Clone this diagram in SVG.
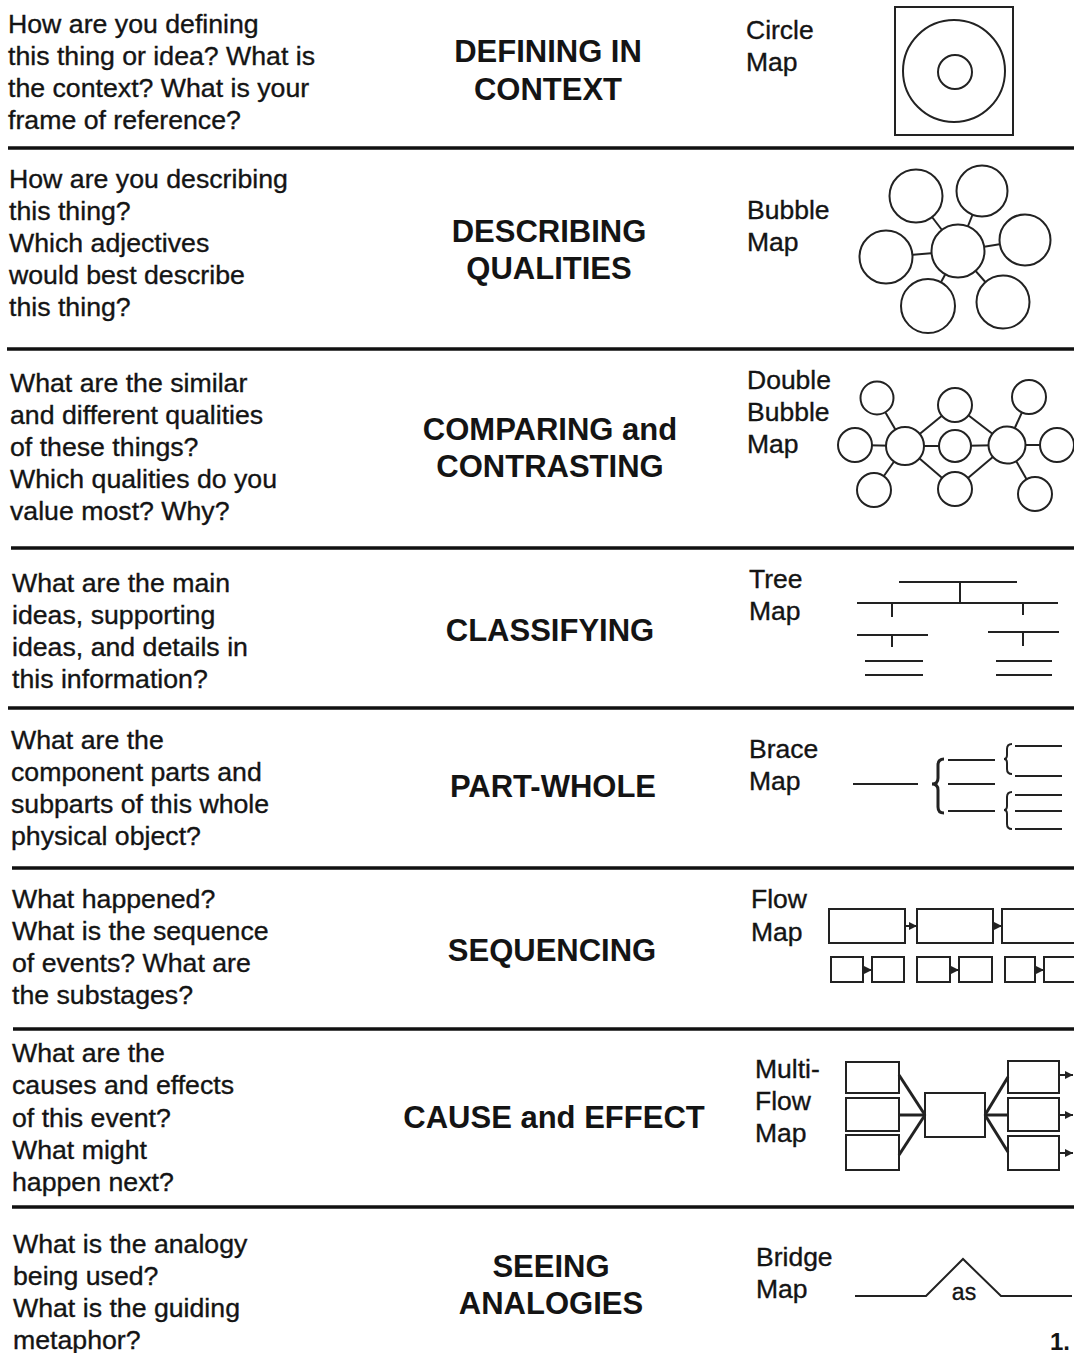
<svg xmlns="http://www.w3.org/2000/svg" width="1074" height="1353" viewBox="0 0 1074 1353">
<style>
.q{font-family:"Liberation Sans",Arial,sans-serif;font-size:26.7px;fill:#141414;stroke:#141414;stroke-width:0.35}
.t{font-family:"Liberation Sans",Arial,sans-serif;font-size:31px;font-weight:bold;fill:#141414;text-anchor:middle}
.m{font-family:"Liberation Sans",Arial,sans-serif;font-size:26.5px;fill:#141414;stroke:#141414;stroke-width:0.35}
.sep{stroke:#111;stroke-width:3.5}
.ic{fill:#fff;stroke:#222;stroke-width:2}
.ln{stroke:#222;stroke-width:2;fill:none}
.hv{stroke:#222;stroke-width:3;fill:none}
</style>
<defs>
<marker id="ah" viewBox="0 0 6 6" refX="6" refY="3" markerWidth="4" markerHeight="4" orient="auto"><path d="M0,0 L6,3 L0,6 z" fill="#222"/></marker>
</defs>
<rect width="1074" height="1353" fill="#fff"/>
<g id="separators">
<line class="sep" x1="8" y1="148" x2="1074" y2="148"/>
<line class="sep" x1="7" y1="349" x2="1074" y2="349"/>
<line class="sep" x1="11" y1="548" x2="1074" y2="548"/>
<line class="sep" x1="8" y1="708" x2="1074" y2="708"/>
<line class="sep" x1="12" y1="868" x2="1074" y2="868"/>
<line class="sep" x1="13" y1="1029" x2="1074" y2="1029"/>
<line class="sep" x1="12" y1="1207" x2="1074" y2="1207"/>
</g>
<g id="row-circle">
<text class="q" x="8" y="33">How are you defining</text>
<text class="q" x="8" y="65">this thing or idea? What is</text>
<text class="q" x="8" y="97">the context? What is your</text>
<text class="q" x="8" y="129">frame of reference?</text>
<text class="t" x="548" y="62">DEFINING IN</text>
<text class="t" x="548" y="100">CONTEXT</text>
<text class="m" x="746" y="39">Circle</text>
<text class="m" x="746" y="71">Map</text>
<rect class="ic" x="895" y="7" width="118" height="128"/>
<circle class="ic" cx="954" cy="71" r="51"/>
<circle class="ic" cx="955" cy="72" r="17"/>
</g>
<g id="row-bubble">
<text class="q" x="9" y="188">How are you describing</text>
<text class="q" x="9" y="220">this thing?</text>
<text class="q" x="9" y="252">Which adjectives</text>
<text class="q" x="9" y="284">would best describe</text>
<text class="q" x="9" y="316">this thing?</text>
<text class="t" x="549" y="242">DESCRIBING</text>
<text class="t" x="549" y="279">QUALITIES</text>
<text class="m" x="747" y="219">Bubble</text>
<text class="m" x="747" y="251">Map</text>
<g class="ln">
<line x1="958" y1="251" x2="916" y2="196"/>
<line x1="958" y1="251" x2="982" y2="191"/>
<line x1="958" y1="251" x2="1025" y2="240"/>
<line x1="958" y1="251" x2="886" y2="257"/>
<line x1="958" y1="251" x2="928" y2="306"/>
<line x1="958" y1="251" x2="1003" y2="302"/>
</g>
<circle class="ic" cx="958" cy="251" r="26.5"/>
<circle class="ic" cx="916" cy="196" r="26.5"/>
<circle class="ic" cx="982" cy="191" r="25.5"/>
<circle class="ic" cx="1025" cy="240" r="25.5"/>
<circle class="ic" cx="886" cy="257" r="26.5"/>
<circle class="ic" cx="928" cy="306" r="27"/>
<circle class="ic" cx="1003" cy="302" r="26.5"/>
</g>
<g id="row-double-bubble">
<text class="q" x="10" y="392">What are the similar</text>
<text class="q" x="10" y="424">and different qualities</text>
<text class="q" x="10" y="456">of these things?</text>
<text class="q" x="10" y="488">Which qualities do you</text>
<text class="q" x="10" y="520">value most?  Why?</text>
<text class="t" x="550" y="440">COMPARING and</text>
<text class="t" x="550" y="477">CONTRASTING</text>
<text class="m" x="747" y="389">Double</text>
<text class="m" x="747" y="421">Bubble</text>
<text class="m" x="747" y="453">Map</text>
<g class="ln">
<line x1="905" y1="446" x2="877" y2="398"/>
<line x1="905" y1="446" x2="855" y2="445"/>
<line x1="905" y1="446" x2="874" y2="490"/>
<line x1="905" y1="446" x2="955" y2="405"/>
<line x1="905" y1="446" x2="955" y2="446"/>
<line x1="905" y1="446" x2="955" y2="489"/>
<line x1="1007" y1="445" x2="1029" y2="397"/>
<line x1="1007" y1="445" x2="1057" y2="445"/>
<line x1="1007" y1="445" x2="1035" y2="494"/>
<line x1="1007" y1="445" x2="955" y2="405"/>
<line x1="1007" y1="445" x2="955" y2="446"/>
<line x1="1007" y1="445" x2="955" y2="489"/>
</g>
<circle class="ic" cx="905" cy="446" r="19"/>
<circle class="ic" cx="1007" cy="445" r="18.5"/>
<circle class="ic" cx="955" cy="446" r="16"/>
<circle class="ic" cx="955" cy="405" r="17"/>
<circle class="ic" cx="955" cy="489" r="17"/>
<circle class="ic" cx="877" cy="398" r="16.5"/>
<circle class="ic" cx="855" cy="445" r="17"/>
<circle class="ic" cx="874" cy="490" r="17"/>
<circle class="ic" cx="1029" cy="397" r="17"/>
<circle class="ic" cx="1057" cy="445" r="17"/>
<circle class="ic" cx="1035" cy="494" r="17"/>
</g>
<g id="row-tree">
<text class="q" x="12" y="592">What are the main</text>
<text class="q" x="12" y="624">ideas, supporting</text>
<text class="q" x="12" y="656">ideas, and details in</text>
<text class="q" x="12" y="688">this information?</text>
<text class="t" x="550" y="641">CLASSIFYING</text>
<text class="m" x="749" y="588">Tree</text>
<text class="m" x="749" y="620">Map</text>
<g class="ln">
<line x1="899" y1="582" x2="1017" y2="582"/>
<line x1="960" y1="582" x2="960" y2="603"/>
<line x1="857" y1="603" x2="1058" y2="603"/>
<line x1="892" y1="603" x2="892" y2="617"/>
<line x1="1023" y1="603" x2="1023" y2="615"/>
<line x1="857" y1="635" x2="928" y2="635"/>
<line x1="892" y1="635" x2="892" y2="647"/>
<line x1="988" y1="632" x2="1059" y2="632"/>
<line x1="1023" y1="632" x2="1023" y2="646"/>
<line x1="865" y1="661" x2="923" y2="661"/>
<line x1="865" y1="675" x2="923" y2="675"/>
<line x1="996" y1="661" x2="1052" y2="661"/>
<line x1="996" y1="675" x2="1052" y2="675"/>
</g>
</g>
<g id="row-brace">
<text class="q" x="11" y="749">What are the</text>
<text class="q" x="11" y="781">component parts and</text>
<text class="q" x="11" y="813">subparts of this whole</text>
<text class="q" x="11" y="845">physical object?</text>
<text class="t" x="553" y="797">PART-WHOLE</text>
<text class="m" x="749" y="758">Brace</text>
<text class="m" x="749" y="790">Map</text>
<g class="ln">
<line x1="853" y1="784" x2="918" y2="784"/>
<line x1="948" y1="760" x2="995" y2="760"/>
<line x1="948" y1="784" x2="995" y2="784"/>
<line x1="948" y1="811" x2="995" y2="811"/>
<line x1="1015" y1="746" x2="1062" y2="746"/>
<line x1="1015" y1="776" x2="1062" y2="776"/>
<line x1="1015" y1="795" x2="1062" y2="795"/>
<line x1="1015" y1="811" x2="1062" y2="811"/>
<line x1="1015" y1="829" x2="1062" y2="829"/>
</g>
<path class="hv" d="M944,759 Q938,759 938,765 L938,778 Q938,784 932,784 Q938,784 938,790 L938,807 Q938,813 944,813"/>
<path class="ln" d="M1012,744 Q1007,744 1007,749 L1007,755 Q1007,759 1004,759 Q1007,759 1007,763 L1007,769 Q1007,774 1012,774"/>
<path class="ln" d="M1012,792 Q1007,792 1007,797 L1007,806 Q1007,810 1004,810 Q1007,810 1007,814 L1007,824 Q1007,829 1012,829"/>
</g>
<g id="row-flow">
<text class="q" x="12" y="908">What happened?</text>
<text class="q" x="12" y="940">What is the sequence</text>
<text class="q" x="12" y="972">of events? What are</text>
<text class="q" x="12" y="1004">the substages?</text>
<text class="t" x="552" y="961">SEQUENCING</text>
<text class="m" x="751" y="908">Flow</text>
<text class="m" x="751" y="941">Map</text>
<rect class="ic" x="829" y="909" width="76" height="34"/>
<rect class="ic" x="917" y="909" width="76" height="34"/>
<rect class="ic" x="1002" y="909" width="80" height="34"/>
<rect class="ic" x="831" y="957" width="32" height="25"/>
<rect class="ic" x="872" y="957" width="32" height="25"/>
<rect class="ic" x="917" y="957" width="33" height="25"/>
<rect class="ic" x="959" y="957" width="33" height="25"/>
<rect class="ic" x="1005" y="957" width="30" height="25"/>
<rect class="ic" x="1044" y="957" width="40" height="25"/>
<g class="ln">
<line x1="905" y1="926" x2="917" y2="926" marker-end="url(#ah)"/>
<line x1="993" y1="926" x2="1002" y2="926" marker-end="url(#ah)"/>
<line x1="863" y1="970" x2="872" y2="970" marker-end="url(#ah)"/>
<line x1="950" y1="970" x2="959" y2="970" marker-end="url(#ah)"/>
<line x1="1035" y1="970" x2="1044" y2="970" marker-end="url(#ah)"/>
</g>
</g>
<g id="row-multiflow">
<text class="q" x="12" y="1062">What are the</text>
<text class="q" x="12" y="1094">causes and effects</text>
<text class="q" x="12" y="1127">of this event?</text>
<text class="q" x="12" y="1159">What might</text>
<text class="q" x="12" y="1191">happen next?</text>
<text class="t" x="554" y="1128">CAUSE and EFFECT</text>
<text class="m" x="755" y="1078">Multi-</text>
<text class="m" x="755" y="1110">Flow</text>
<text class="m" x="755" y="1142">Map</text>
<rect class="ic" x="846" y="1062" width="53" height="31"/>
<rect class="ic" x="846" y="1098" width="53" height="33"/>
<rect class="ic" x="846" y="1135" width="53" height="35"/>
<rect class="ic" x="925" y="1093" width="60" height="44"/>
<rect class="ic" x="1008" y="1061" width="51" height="32"/>
<rect class="ic" x="1008" y="1098" width="51" height="33"/>
<rect class="ic" x="1008" y="1136" width="51" height="34"/>
<g class="hv">
<line x1="899" y1="1075" x2="925" y2="1115"/>
<line x1="899" y1="1115" x2="925" y2="1115"/>
<line x1="899" y1="1155" x2="925" y2="1115"/>
<line x1="985" y1="1115" x2="1008" y2="1077"/>
<line x1="985" y1="1115" x2="1008" y2="1115"/>
<line x1="985" y1="1115" x2="1008" y2="1152"/>
</g>
<g class="ln">
<line x1="1059" y1="1075" x2="1073" y2="1075" marker-end="url(#ah)"/>
<line x1="1059" y1="1115" x2="1073" y2="1115" marker-end="url(#ah)"/>
<line x1="1059" y1="1153" x2="1073" y2="1153" marker-end="url(#ah)"/>
</g>
</g>
<g id="row-bridge">
<text class="q" x="13" y="1253">What is the analogy</text>
<text class="q" x="13" y="1285">being used?</text>
<text class="q" x="13" y="1317">What is the guiding</text>
<text class="q" x="13" y="1349">metaphor?</text>
<text class="t" x="551" y="1277">SEEING</text>
<text class="t" x="551" y="1314">ANALOGIES</text>
<text class="m" x="756" y="1266">Bridge</text>
<text class="m" x="756" y="1298">Map</text>
<path class="ln" d="M855,1296 L926,1296 L963,1259 L1001,1296 L1072,1296"/>
<text class="m" x="964" y="1300" text-anchor="middle" style="font-size:23px">as</text>
<text x="1050" y="1350" style="font-family:'Liberation Sans',Arial,sans-serif;font-size:24px;font-weight:bold;fill:#141414">1.</text>
</g>
</svg>
